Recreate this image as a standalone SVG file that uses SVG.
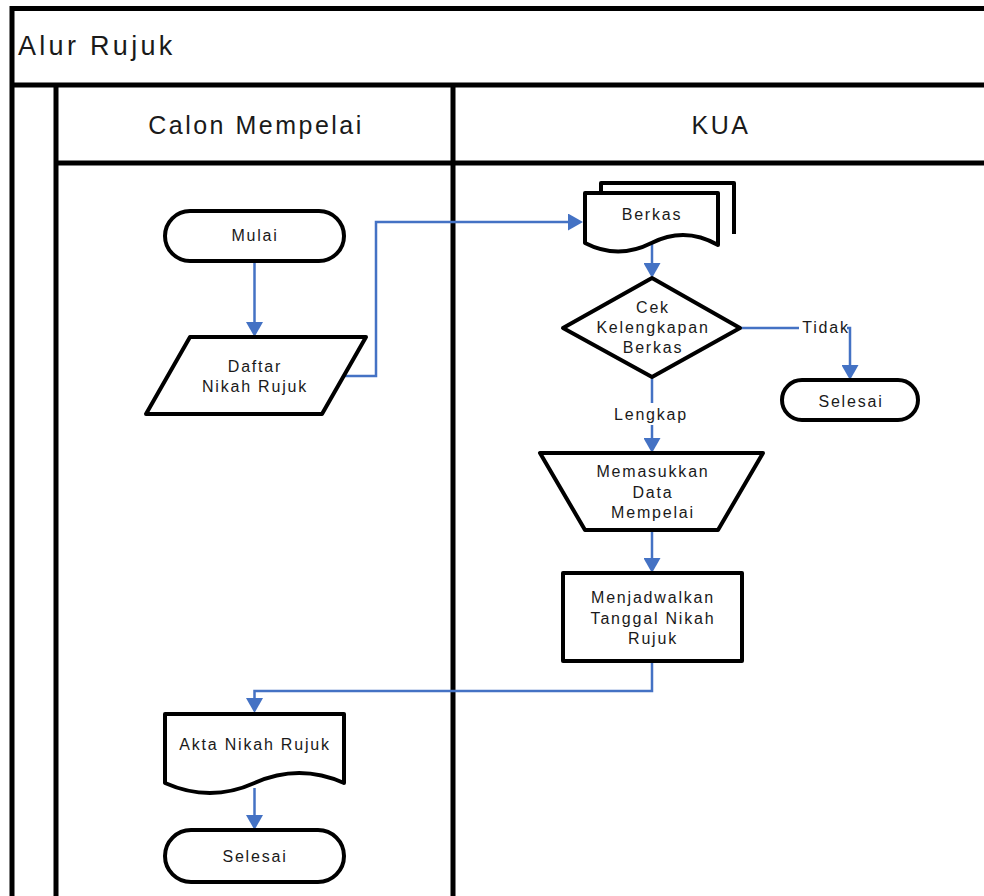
<svg xmlns="http://www.w3.org/2000/svg" width="984" height="896" viewBox="0 0 984 896">
  <style>
    .frame { fill: none; stroke: #000; stroke-width: 5; }
    .node { fill: #fff; stroke: #000; stroke-width: 4; stroke-linejoin: round; }
    .conn { fill: none; stroke: #4472c4; stroke-width: 2.5; }
    .lbl { font-family: "Liberation Sans", Arial, sans-serif; font-size: 16px; letter-spacing: 1.8px; fill: #1a1a1a; text-anchor: middle; }
    .hdr { font-family: "Liberation Sans", Arial, sans-serif; font-size: 25px; letter-spacing: 2.5px; fill: #1a1a1a; text-anchor: middle; }
    .title { font-family: "Liberation Sans", Arial, sans-serif; font-size: 27px; letter-spacing: 3.3px; fill: #1a1a1a; }
  </style>
  <defs>
    <marker id="arrow" viewBox="0 0 15 17" refX="0" refY="8.5" markerWidth="15" markerHeight="17" markerUnits="userSpaceOnUse" orient="auto">
      <path d="M0,0 L15,8.5 L0,17 Z" fill="#4472c4"/>
    </marker>
  </defs>

  <rect width="984" height="896" fill="#fff"/>

  <!-- pool and swimlane frame -->
  <g id="pool">
    <path class="frame" d="M12,896 V8.5 H984"/>
    <path class="frame" d="M12,85 H984"/>
    <path class="frame" d="M56,85 V896"/>
    <path class="frame" d="M56,163 H984"/>
    <path class="frame" d="M453,85 V896"/>
    <text class="title" x="18" y="55">Alur Rujuk</text>
    <text class="hdr" x="256" y="134">Calon Mempelai</text>
    <text class="hdr" x="721" y="134">KUA</text>
  </g>

  <!-- connectors -->
  <g id="connectors">
    <path class="conn" d="M254.5,262 V322" marker-end="url(#arrow)"/>
    <path class="conn" d="M342,376 H376 V222 H568" marker-end="url(#arrow)"/>
    <path class="conn" d="M652,242 V263" marker-end="url(#arrow)"/>
    <path class="conn" d="M740,328 H850 V365" marker-end="url(#arrow)"/>
    <path class="conn" d="M652,377 V438" marker-end="url(#arrow)"/>
    <path class="conn" d="M652,530 V558" marker-end="url(#arrow)"/>
    <path class="conn" d="M652,661 V691 H254.5 V698" marker-end="url(#arrow)"/>
    <path class="conn" d="M254.5,788 V815" marker-end="url(#arrow)"/>
    <rect x="799" y="318" width="48" height="20" fill="#fff"/>
    <text class="lbl" x="826" y="333">Tidak</text>
    <rect x="610" y="403" width="82" height="22" fill="#fff"/>
    <text class="lbl" x="651" y="420">Lengkap</text>
  </g>

  <g id="mulai">
    <rect class="node" x="165" y="211" width="179" height="50" rx="25"/>
    <text class="lbl" x="255" y="241">Mulai</text>
  </g>

  <g id="daftar">
    <polygon class="node" points="190,337 366,337 322,414 146,414"/>
    <text class="lbl" x="255" y="372">Daftar</text>
    <text class="lbl" x="255" y="392">Nikah Rujuk</text>
  </g>

  <g id="berkas">
    <path class="node" d="M601,192 V183 H734 V234" fill="none"/>
    <path class="node" d="M585,193 H718 V245 Q685,226 651.5,243 Q618,260 585,243 Z"/>
    <text class="lbl" x="652" y="220">Berkas</text>
  </g>

  <g id="cek">
    <polygon class="node" points="652,278 740,328 652,377 563,328"/>
    <text class="lbl" x="653" y="313">Cek</text>
    <text class="lbl" x="653" y="333">Kelengkapan</text>
    <text class="lbl" x="653" y="353">Berkas</text>
  </g>

  <g id="selesai-kua">
    <rect class="node" x="782" y="380" width="136" height="40" rx="20"/>
    <text class="lbl" x="851" y="407">Selesai</text>
  </g>

  <g id="memasukkan">
    <polygon class="node" points="540,453 763,453 718,530 585,530"/>
    <text class="lbl" x="653" y="477">Memasukkan</text>
    <text class="lbl" x="653" y="498">Data</text>
    <text class="lbl" x="653" y="518">Mempelai</text>
  </g>

  <g id="menjadwalkan">
    <rect class="node" x="563" y="573" width="179" height="88"/>
    <text class="lbl" x="653" y="603">Menjadwalkan</text>
    <text class="lbl" x="653" y="624">Tanggal Nikah</text>
    <text class="lbl" x="653" y="644">Rujuk</text>
  </g>

  <g id="akta">
    <path class="node" d="M165,714 H344 V783 Q299,763 254.5,783 Q210,803 165,783 Z"/>
    <text class="lbl" x="255" y="750">Akta Nikah Rujuk</text>
  </g>

  <g id="selesai">
    <rect class="node" x="165" y="830" width="179" height="52" rx="26"/>
    <text class="lbl" x="255" y="862">Selesai</text>
  </g>
</svg>
